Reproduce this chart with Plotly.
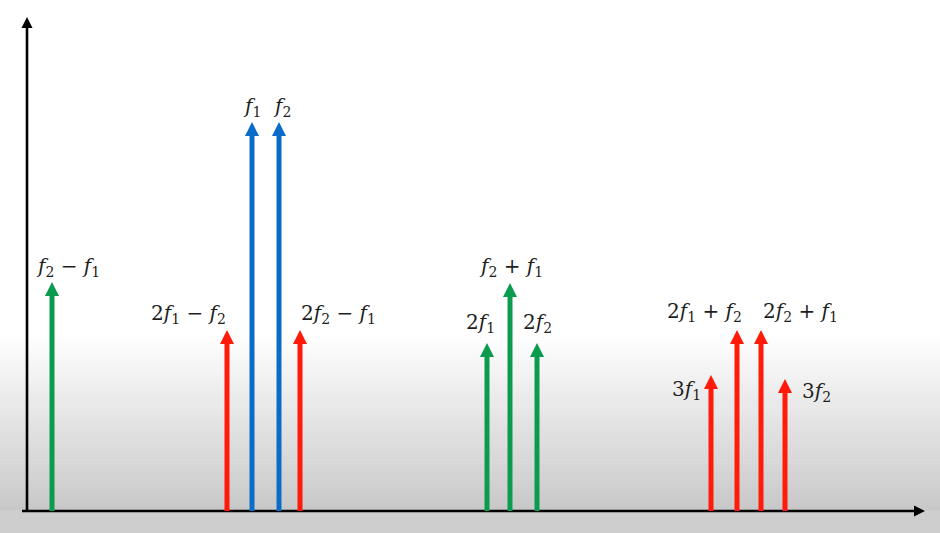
import plotly.graph_objects as go

# ---- data (x: frequency position, y: amplitude) ----
freqs_green = [25, 460, 483, 510]
amps_green = [229, 168, 228, 168]
labels_green = ["<i>f</i><sub>2</sub> − <i>f</i><sub>1</sub>", "2<i>f</i><sub>1</sub>",
                "<i>f</i><sub>2</sub> + <i>f</i><sub>1</sub>", "2<i>f</i><sub>2</sub>"]

freqs_blue = [225, 252]
amps_blue = [389, 389]
labels_blue = ["<i>f</i><sub>1</sub>", "<i>f</i><sub>2</sub>"]

freqs_red = [200, 273, 684, 710, 734, 758]
amps_red = [181, 181, 136, 181, 181, 132]
labels_red = ["2<i>f</i><sub>1</sub> − <i>f</i><sub>2</sub>", "2<i>f</i><sub>2</sub> − <i>f</i><sub>1</sub>",
              "3<i>f</i><sub>1</sub>", "2<i>f</i><sub>1</sub> + <i>f</i><sub>2</sub>",
              "2<i>f</i><sub>2</sub> + <i>f</i><sub>1</sub>", "3<i>f</i><sub>2</sub>"]

# label anchor offsets (dx, dy relative to arrow tip)
label_pos_green = [(16, 15), (-7, 20), (1, 16), (0, 20)]
label_pos_blue = [(0, 15), (3, 15)]
label_pos_red = [(-39, 16), (38, 16), (-25, -15), (-33, 18), (39, 18), (31, -13)]

# axis extents (data units)
x_axis_end = 898
y_axis_end = 494

GREEN = "#0a9b4f"
BLUE = "#0b6cc8"
RED = "#ff1a0a"

fig = go.Figure()

W, H = 940, 533
X0, Y0 = 27, 511  # origin pixel

# background gradient bands
shapes = []
top, bot = 334, 511
n = 60
for i in range(n):
    y1 = top + (bot - top) * i / n
    y2 = top + (bot - top) * (i + 1) / n
    t = (i + 0.5) / n
    v = int(round(255 - (255 - 200) * t))
    shapes.append(dict(type="rect", xref="paper", yref="paper", x0=0, x1=1,
                       y0=(H - y2) / H, y1=(H - y1) / H + 0.001,
                       fillcolor=f"rgb({v},{v},{v})", line_width=0, layer="below"))
shapes.append(dict(type="rect", xref="paper", yref="paper", x0=0, x1=1,
                   y0=0, y1=(H - bot) / H + 0.001,
                   fillcolor="rgb(206,206,206)", line_width=0, layer="below"))

HEAD = 14   # arrow head size (px)
STEM = 5    # arrow stem width (px)

# axes
fig.add_trace(go.Scatter(x=[0, 0, None, -5, x_axis_end - 6], y=[-1, y_axis_end - 6, None, 0, 0],
                         mode="lines", line=dict(color="#000000", width=2.6),
                         hoverinfo="skip", showlegend=False))
fig.add_trace(go.Scatter(x=[0], y=[y_axis_end], mode="markers",
                         marker=dict(symbol="arrow-up", size=11, color="#000000", line_width=0),
                         hoverinfo="skip", showlegend=False))
fig.add_trace(go.Scatter(x=[x_axis_end], y=[0], mode="markers",
                         marker=dict(symbol="arrow-right", size=11, color="#000000", line_width=0),
                         hoverinfo="skip", showlegend=False))

annotations = []
FONT = dict(family="DejaVu Serif", size=20, color="#1e1e1e")

def add_arrows(freqs, amps, labels, offsets, color):
    xs, ys = [], []
    for f, a in zip(freqs, amps):
        xs += [f, f, None]
        ys += [0, a - HEAD * 0.8, None]
    fig.add_trace(go.Scatter(x=xs, y=ys, mode="lines",
                             line=dict(color=color, width=STEM),
                             hoverinfo="skip", showlegend=False))
    fig.add_trace(go.Scatter(x=freqs, y=amps, mode="markers",
                             marker=dict(symbol="arrow-up", size=HEAD, color=color, line_width=0),
                             hoverinfo="skip", showlegend=False))
    for f, a, lab, (dx, dy) in zip(freqs, amps, labels, offsets):
        annotations.append(dict(x=f + dx, y=a + dy, xref="x", yref="y",
                                showarrow=False, text=lab, font=FONT,
                                xanchor="center", yanchor="middle"))

add_arrows(freqs_green, amps_green, labels_green, label_pos_green, GREEN)
add_arrows(freqs_blue, amps_blue, labels_blue, label_pos_blue, BLUE)
add_arrows(freqs_red, amps_red, labels_red, label_pos_red, RED)

fig.update_layout(
    width=W, height=H,
    margin=dict(l=0, r=0, t=0, b=0),
    paper_bgcolor="white", plot_bgcolor="white",
    xaxis=dict(range=[-X0, W - X0], visible=False, fixedrange=True),
    yaxis=dict(range=[Y0 - H, Y0], visible=False, fixedrange=True),
    shapes=shapes, annotations=annotations, showlegend=False,
)

fig.write_html("out.html", config={"displayModeBar": False},
               post_script="document.body.style.margin='0';document.body.style.overflow='hidden';")
